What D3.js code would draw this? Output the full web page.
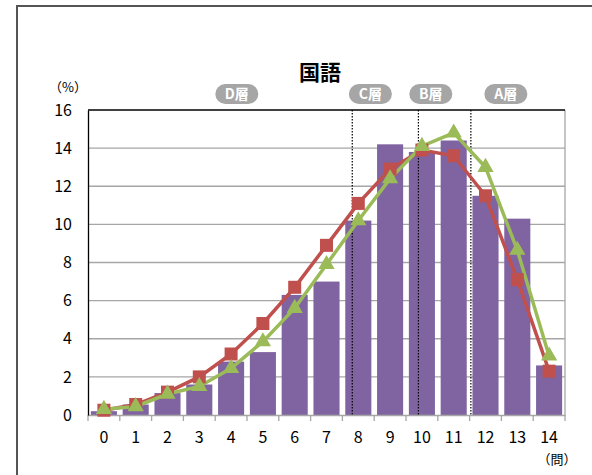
<!DOCTYPE html>
<html>
<head>
<meta charset="utf-8">
<script src="https://cdn.jsdelivr.net/npm/d3@7"></script>
<style>
  body { margin: 0; background: #fff; }
  svg text { font-family: "Noto Sans CJK JP", "Noto Sans", sans-serif; }
</style>
</head>
<body>
<div id="chart"></div>
<script>
// data
const questions = ["0","1","2","3","4","5","6","7","8","9","10","11","12","13","14"];
const barValues = [0.2, 0.55, 1.15, 1.6, 2.8, 3.3, 6.3, 7.0, 10.2, 14.2, 13.8, 14.4, 11.5, 10.3, 2.6];
const redValues = [0.25, 0.55, 1.2, 2.0, 3.2, 4.8, 6.7, 8.9, 11.1, 12.9, 13.9, 13.6, 11.5, 7.1, 2.3];
const greenValues = [0.3, 0.45, 1.1, 1.5, 2.45, 3.85, 5.6, 7.9, 10.2, 12.4, 14.1, 14.8, 13.0, 8.65, 3.1];
const yTicks = [0, 2, 4, 6, 8, 10, 12, 14, 16];
const layerLabels = ["D層", "C層", "B層", "A層"];
const layerCenters = [4.18, 8.38, 10.28, 12.64];   // in category index units
const layerLines = [7.81, 9.89, 11.54];

const W = 592, H = 475;
const margin = {left: 88, top: 110, right: 27, bottom: 60};
const pw = W - margin.left - margin.right, ph = H - margin.top - margin.bottom;

const svg = d3.select("#chart").append("svg").attr("width", W).attr("height", H);

// outer frame
svg.append("rect").attr("x", 17).attr("y", 6).attr("width", 700).attr("height", 600)
  .attr("fill", "none").attr("stroke", "#555").attr("stroke-width", 2);

const g = svg.append("g").attr("transform", `translate(${margin.left},${margin.top})`);

const x = d3.scaleBand().domain(questions).range([0, pw]).paddingInner(0.18).paddingOuter(0.09);
const y = d3.scaleLinear().domain([0, 16]).range([ph, 0]);
const step = x.step();
const xc = i => x(questions[i]) + x.bandwidth() / 2;
const xi = v => xc(0) + v * step;

// grid
g.selectAll(".grid").data(yTicks.slice(1, -1)).enter().append("line")
  .attr("x1", 0).attr("x2", pw).attr("y1", d => y(d)).attr("y2", d => y(d))
  .attr("stroke", "#a6a6a6").attr("stroke-width", 1.3);

// bars
g.selectAll(".bar").data(barValues).enter().append("rect")
  .attr("x", (d, i) => x(questions[i])).attr("width", x.bandwidth())
  .attr("y", d => y(d)).attr("height", d => ph - y(d))
  .attr("fill", "#8064a2");

// layer dividers
g.selectAll(".div").data(layerLines).enter().append("line")
  .attr("x1", d => xi(d)).attr("x2", d => xi(d)).attr("y1", 0).attr("y2", ph)
  .attr("stroke", "#000").attr("stroke-width", 1.2).attr("stroke-dasharray", "1.5,1.5");

// axes frame
g.append("line").attr("x1", pw).attr("x2", pw).attr("y1", 0).attr("y2", ph).attr("stroke", "#a6a6a6").attr("stroke-width", 1.3);
g.append("line").attr("x1", 0).attr("x2", pw).attr("y1", 0).attr("y2", 0).attr("stroke", "#000").attr("stroke-width", 1.3);

const xAxis = g.append("g").attr("transform", `translate(0,${ph})`)
  .call(d3.axisBottom(x).tickSize(0).tickPadding(17));
xAxis.select(".domain").attr("stroke", "#a6a6a6").attr("stroke-width", 1.3);
xAxis.selectAll("text").attr("font-size", 16).attr("fill", "#000").attr("font-family", "Noto Sans, sans-serif");
// boundary ticks
g.selectAll(".xt").data(d3.range(questions.length + 1)).enter().append("line")
  .attr("x1", d => d * step).attr("x2", d => d * step).attr("y1", ph).attr("y2", ph + 6)
  .attr("stroke", "#a6a6a6").attr("stroke-width", 1.3);

const yAxis = g.append("g").call(d3.axisLeft(y).tickValues(yTicks).tickSize(0).tickPadding(16));
yAxis.select(".domain").attr("stroke", "#000").attr("stroke-width", 1.3);
yAxis.selectAll("text").attr("font-size", 16).attr("fill", "#000").attr("font-family", "Noto Sans, sans-serif");

// lines
const line = d3.line().x((d, i) => xc(i)).y(d => y(d));
g.append("path").datum(redValues).attr("d", line).attr("fill", "none")
  .attr("stroke", "#c0504d").attr("stroke-width", 3.5);
g.append("path").datum(greenValues).attr("d", line).attr("fill", "none")
  .attr("stroke", "#9bbb59").attr("stroke-width", 3.5);

g.selectAll(".sq").data(redValues).enter().append("rect")
  .attr("x", (d, i) => xc(i) - 6.5).attr("y", d => y(d) - 6.5)
  .attr("width", 13).attr("height", 13).attr("fill", "#c0504d");

const tri = d3.symbol().type(d3.symbolTriangle).size(115);
g.selectAll(".tri").data(greenValues).enter().append("path")
  .attr("d", tri).attr("transform", (d, i) => `translate(${xc(i)},${y(d)})`)
  .attr("fill", "#9bbb59");

// layer pills
const pills = g.selectAll(".pill").data(layerLabels).enter().append("g")
  .attr("transform", (d, i) => `translate(${xi(layerCenters[i])},${-16})`);
pills.append("rect").attr("x", -21.5).attr("y", -10).attr("width", 43).attr("height", 20)
  .attr("rx", 10).attr("fill", "#a6a6a6");
pills.append("text").attr("text-anchor", "middle").attr("dy", "0.36em")
  .attr("font-size", 14).attr("font-weight", "bold").attr("fill", "#fff").text(d => d);

// title and units
svg.append("text").attr("x", 320).attr("y", 80).attr("text-anchor", "middle")
  .attr("font-size", 21).attr("font-weight", "bold").text("国語");
svg.append("text").attr("x", 68).attr("y", 92).attr("text-anchor", "middle")
  .attr("font-size", 13).text("（%）");
svg.append("text").attr("x", 557).attr("y", 464).attr("text-anchor", "middle")
  .attr("font-size", 13).text("（問）");
</script>
</body>
</html>
